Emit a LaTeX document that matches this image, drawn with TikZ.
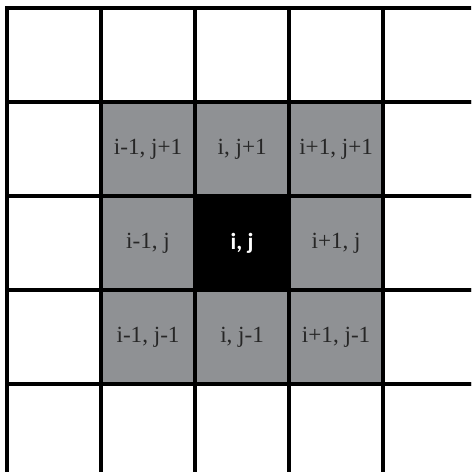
\documentclass[tikz,border=0pt]{standalone}
\usepackage{fontspec}
\setmainfont{Liberation Serif}
\newfontfamily\centrefont{Carlito}
\definecolor{nbgray}{RGB}{143,145,148}
\begin{document}
\begin{tikzpicture}[
    every node/.style={font=\fontsize{14}{16}\selectfont},
    cell/.style={rectangle, draw, line width=2.3pt, fill=white, minimum size=2cm, inner sep=0pt},
    neighbour/.style={cell, fill=nbgray, text=black!85},
    centre/.style={cell, fill=black, text=white, font=\centrefont\bfseries\fontsize{14}{16}\selectfont}
]
% -------------------------
% Frame (grid runs off the right and bottom edge)
% -------------------------
    \clip (-0.15,0.17) rectangle (9.87,-9.87);

% -------------------------
% Outer ring of empty cells
% -------------------------
    \foreach \r in {0,...,4} {
        \foreach \c in {0,...,4} {
            \node[cell] (cell-\r-\c) at (2*\c+1, -2*\r-1) {};
        }
    }

% -------------------------
% Neighbourhood
% -------------------------
    \node[neighbour] (nw) at (3, -3) {i-1, j+1};
    \node[neighbour] (n)  at (5, -3) {i, j+1};
    \node[neighbour] (ne) at (7, -3) {i+1, j+1};

    \node[neighbour] (w)  at (3, -5) {i-1, j};
    \node[centre]    (c)  at (5, -5) {i, j};
    \node[neighbour] (e)  at (7, -5) {i+1, j};

    \node[neighbour] (sw) at (3, -7) {i-1, j-1};
    \node[neighbour] (s)  at (5, -7) {i, j-1};
    \node[neighbour] (se) at (7, -7) {i+1, j-1};
\end{tikzpicture}
\end{document}
